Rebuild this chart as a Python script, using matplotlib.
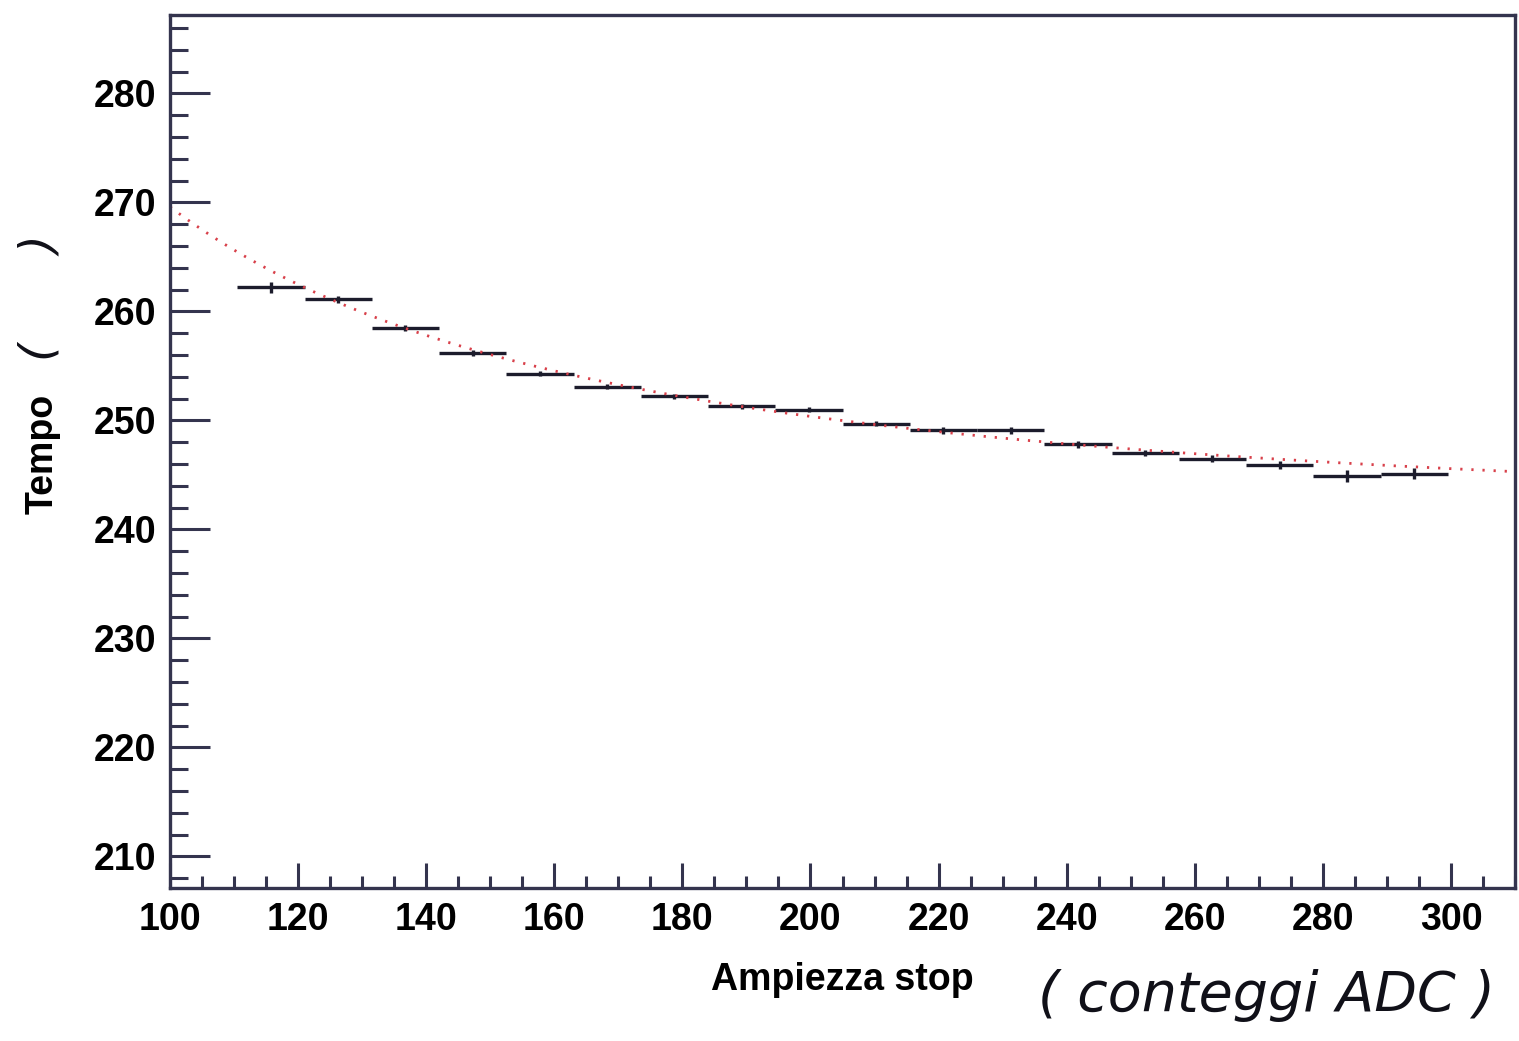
import numpy as np
import matplotlib
matplotlib.use("Agg")
import matplotlib.pyplot as plt
from matplotlib.ticker import MultipleLocator

# ---- data ----
bin_centers = [115.75, 126.25, 136.75, 147.25, 157.75, 168.25, 178.75, 189.25, 199.75,
               210.25, 220.75, 231.25, 241.75, 252.25, 262.75, 273.25, 283.75, 294.25]
bin_halfwidth = [5.25] * 18
tempo = [262.2, 261.1, 258.5, 256.2, 254.3, 253.1, 252.2, 251.3, 251.0,
         249.7, 249.1, 249.1, 247.8, 247.0, 246.5, 245.9, 244.9, 245.1]
tempo_err = [0.5, 0.35, 0.3, 0.3, 0.25, 0.25, 0.25, 0.25, 0.25,
             0.25, 0.3, 0.3, 0.3, 0.3, 0.35, 0.4, 0.55, 0.5]
# fit: t = p0 + p1 * A^(-p2)
fit_p0, fit_p1, fit_p2 = 239.85, 29750.0, 1.5
fit_range = [100, 310]
x_ticks = [100, 120, 140, 160, 180, 200, 220, 240, 260, 280, 300]
y_ticks = [210, 220, 230, 240, 250, 260, 270, 280]

frame_col = "#34344e"
data_col = "#1c1c2c"

plt.rcParams['font.family'] = ['Liberation Sans', 'DejaVu Sans']

fig = plt.figure(figsize=(15.19, 10.41), dpi=100)
ax = fig.add_axes([170/1519, 1-888/1041, (1515-170)/1519, (888-15)/1041])

ax.errorbar(bin_centers, tempo, xerr=bin_halfwidth, yerr=tempo_err, fmt='none',
            ecolor=data_col, elinewidth=2.4, capsize=0)

xf = np.linspace(fit_range[0], fit_range[1], 400)
ax.plot(xf, fit_p0 + fit_p1 * xf ** (-fit_p2), color="#d8404a", lw=2.0,
        linestyle=(0, (0.8, 3.2)))

ax.set_xlim(100, 310)
ax.set_ylim(207.1, 287.2)
ax.set_xticks(x_ticks)
ax.set_yticks(y_ticks)
ax.xaxis.set_minor_locator(MultipleLocator(5))
ax.yaxis.set_minor_locator(MultipleLocator(2))

for s in ax.spines.values():
    s.set_color(frame_col)
    s.set_linewidth(2.4)

ax.tick_params(axis='x', which='major', direction='in', length=18, width=2.2,
               color=frame_col, labelsize=27, pad=10, top=False)
ax.tick_params(axis='x', which='minor', direction='in', length=9, width=2.2,
               color=frame_col, top=False)
ax.tick_params(axis='y', which='major', direction='in', length=29, width=2.2,
               color=frame_col, labelsize=27, pad=10, right=False)
ax.tick_params(axis='y', which='minor', direction='in', length=13, width=2.2,
               color=frame_col, right=False)
for lab in ax.get_xticklabels() + ax.get_yticklabels():
    lab.set_fontweight('bold')

ax.set_xlabel("Ampiezza stop", fontsize=27, fontweight='bold', labelpad=8)
ax.set_ylabel("Tempo", fontsize=27, fontweight='bold', labelpad=18)
ax.yaxis.set_label_coords(-0.081, 0.497)
ax.xaxis.set_label_coords(0.5, -0.085)

# handwritten additions
fig.text(1267/1519, 1-995/1041, "( conteggi ADC )", fontsize=40, style='italic',
         family=['DejaVu Sans'], ha='center', va='center', color="#101018")
fig.text(40/1519, 1-298/1041, "(      )", fontsize=34, style='italic', rotation=90,
         family=['DejaVu Sans'], ha='center', va='center', color="#101018")

fig.savefig("out.png", dpi=100)
